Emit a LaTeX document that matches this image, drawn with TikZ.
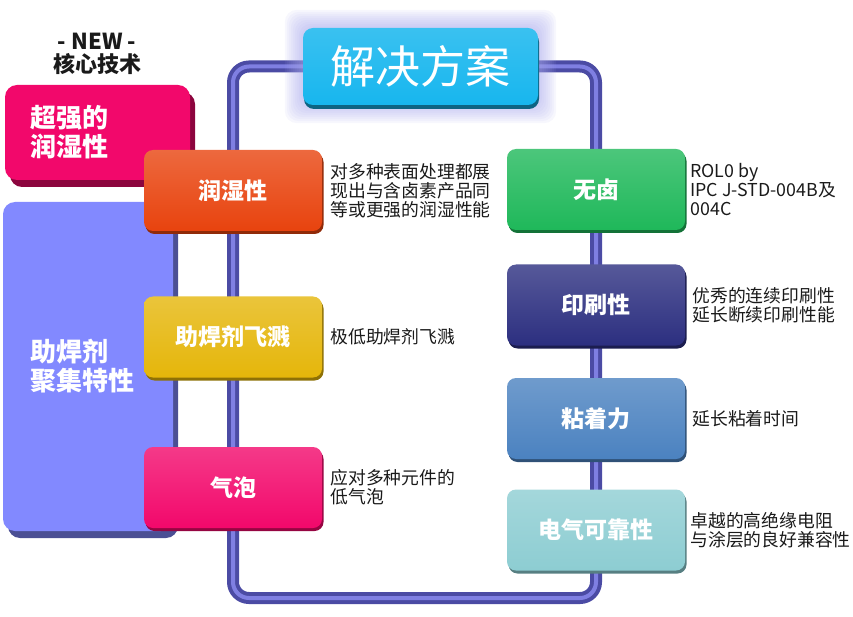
\documentclass[tikz,border=0pt]{standalone}
\usepackage{fontspec}
\setmainfont{Noto Sans CJK SC}
\usepackage{xcolor}
\usepackage{tikz}
\definecolor{solCyan}{HTML}{17B6EE}
\definecolor{solWet}{HTML}{E8430E}
\definecolor{solGold}{HTML}{E5B60A}
\definecolor{solPink}{HTML}{F2086B}
\definecolor{solGreen}{HTML}{1FB85A}
\definecolor{solNavy}{HTML}{2C2F80}
\definecolor{solSteel}{HTML}{4B82C0}
\definecolor{solTeal}{HTML}{8DCDD2}
\definecolor{solLilac}{HTML}{8289FF}
\definecolor{solTube}{HTML}{4B4BA4}
\definecolor{solTubeLite}{HTML}{7F7FE2}
\definecolor{solGlow}{HTML}{A9A9EC}
\definecolor{solInk}{HTML}{1A1A1A}
\usetikzlibrary{positioning,shadows,calc}
\pgfdeclarelayer{back}
\pgfsetlayers{back,main}

\begin{document}
\begin{tikzpicture}[x=1pt, y=-1pt,
    block/.style={rounded corners=9pt, minimum width=178pt, minimum height=81pt, inner sep=0pt,
      top color=#1!80!white, bottom color=#1, text=white,
      font=\bfseries\fontsize{23}{26}\selectfont,
      general shadow={fill=#1!62!black, shadow xshift=1.5pt, shadow yshift=-3pt}},
    panel/.style={rounded corners=12pt, fill=#1, text=white, align=left, inner ysep=0pt,
      font=\bfseries\fontsize{26}{29}\selectfont,
      general shadow={fill=#1!58!black, shadow xshift=5pt, shadow yshift=-7pt}},
    desc/.style={align=left, inner sep=0pt, text=solInk, font=\fontsize{17.8}{19}\selectfont},
    tube/.style={line width=4pt, draw=solTube, double=solTubeLite, double distance=4pt,
      rounded corners=16pt}]
    \useasboundingbox (0,0) rectangle (853,617);

    \node[font=\bfseries\fontsize{22}{23}\selectfont, align=center, text=solInk] (newtag) at (97,54) {- NEW -\\核心技术};
    \node[panel=solPink, minimum width=185pt, minimum height=95pt, inner xsep=25pt, text width=135pt] (tip) at (97.5,132.5) {超强的\\润湿性};
    \node[panel=solLilac, minimum width=170pt, minimum height=329pt, inner xsep=27pt, text width=116pt] (flux) at (88,366.5) {助焊剂\\聚集特性\\[12pt]};

    \node[rounded corners=10pt, minimum width=235pt, minimum height=77pt, inner sep=0pt,
      top color=solCyan!85!white, bottom color=solCyan, text=white, font=\fontsize{45}{45}\selectfont,
      general shadow={fill=solCyan!55!black, shadow xshift=1pt, shadow yshift=-4pt}] (title) at (420.5,66.5) {解决方案};

    \node[block=solWet] (wet) at (233,190.5) {润湿性};
    \node[block=solGold] (spatter) at (233,337) {助焊剂飞溅};
    \node[block=solPink] (bubble) at (233,487.5) {气泡};
    \node[block=solGreen] (halogen) at (596,189.5) {无卤};
    \node[block=solNavy] (print) at (596,305) {印刷性};
    \node[block=solSteel] (tack) at (596,418.5) {粘着力};
    \node[block=solTeal] (elec) at (596,530) {电气可靠性};

    \node[desc, right=8pt of wet] (wetNote) {对多种表面处理都展\\现出与含卤素产品同\\等或更强的润湿性能};
    \node[desc, right=8pt of spatter] (spatterNote) {极低助焊剂飞溅};
    \node[desc, right=8pt of bubble] (bubbleNote) {应对多种元件的\\低气泡};
    \node[desc, right=5pt of halogen] (halogenNote) {ROL0 by\\IPC J-STD-004B及\\004C};
    \node[desc, right=7pt of print] (printNote) {优秀的连续印刷性\\延长断续印刷性能};
    \node[desc, right=7pt of tack] (tackNote) {延长粘着时间};
    \node[desc, right=5pt of elec] (elecNote) {卓越的高绝缘电阻\\与涂层的良好兼容性};

    \coordinate (loopS) at (415,598);
    \begin{pgfonlayer}{back}
      \draw[tube] (title.center) -| (wet.center) |- (loopS) -| (halogen.center) |- (title.center);
      \foreach \g in {2,4,...,18}
        \fill[solGlow, opacity=0.09, rounded corners=12pt] ($(title.north west)+(-\g,-\g)$) rectangle ($(title.south east)+(\g,\g)$);
    \end{pgfonlayer}
  \end{tikzpicture}
\end{document}
